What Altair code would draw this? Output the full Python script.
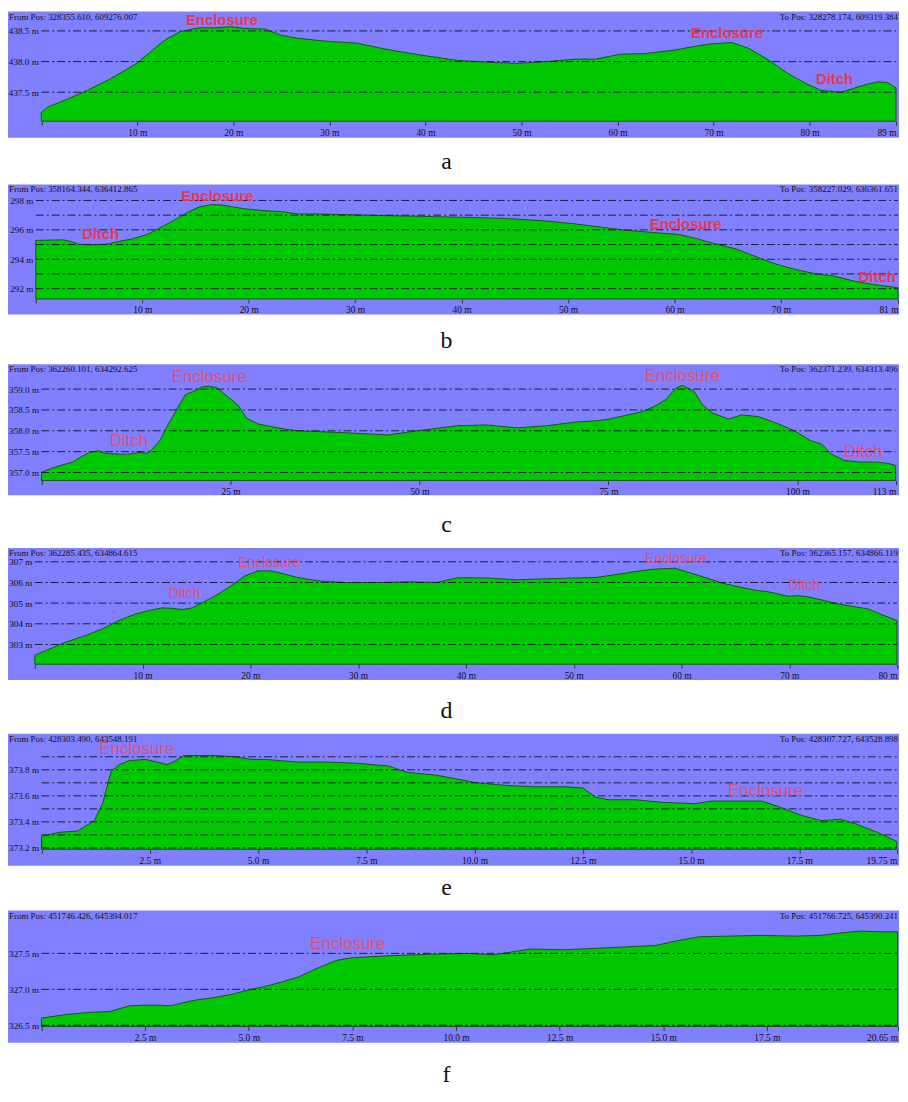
import altair as alt
import pandas as pd

# ---------------- data ----------------
# panel a
a_dist = [0, 0.7, 2.6, 4.8, 7.1, 9.1, 10.0, 11.6, 12.95, 14.5, 16.4, 18.1, 19.8, 21.2, 23.3, 25.0, 26.7, 29.8, 32.9, 35.0,
          37.0, 40.2, 43.3, 46.4, 49.5, 52.6, 55.7, 57.7, 60.3, 62.9, 66.0, 68.1, 69.8, 71.9, 73.6, 75.7, 77.7, 79.5, 81.2, 83.3,
          85.3, 87.05, 88.1, 89.0]
a_elev = [437.17, 437.26, 437.38, 437.53, 437.71, 437.89, 437.98, 438.19, 438.36, 438.49, 438.55, 438.55, 438.57, 438.54, 438.53, 438.43, 438.38, 438.33, 438.30, 438.23,
          438.17, 438.09, 438.02, 437.99, 437.97, 438.00, 438.04, 438.04, 438.12, 438.13, 438.19, 438.25, 438.29, 438.31, 438.22, 438.03, 437.81, 437.65, 437.53, 437.50,
          437.60, 437.67, 437.66, 437.57]
a_grid = [437.5, 438.0, 438.5]
a_ylabels = [437.5, 438.0, 438.5]
a_xticks = [0, 10, 20, 30, 40, 50, 60, 70, 80, 89]
a_xlabels = ["", "10 m", "20 m", "30 m", "40 m", "50 m", "60 m", "70 m", "80 m", "89 m"]
a_from = "From Pos: 328355.610, 609276.007"
a_to = "To Pos: 328278.174, 609319.384"
a_notes = ["Enclosure", "Enclosure", "Ditch"]
a_note_x = [18.8, 71.4, 82.6]
a_note_y = [438.68, 438.46, 437.71]

# panel b
b_dist = [0, 2.55, 3.17, 4.1, 5.04, 6.6, 7.5, 9.1, 10.6, 11.9, 13.1, 14.4, 15.3, 16.5, 17.5, 18.4, 19.7, 21.5, 23.1, 24.6,
          26.5, 29, 32, 36, 40, 44, 48, 50.5, 52.6, 55.1, 57.6, 60.4, 61.9, 63.8, 65.7, 67.5, 69.4, 71.3, 73.1, 75.0,
          76.9, 78.7, 81.0]
b_elev = [295.28, 295.32, 295.24, 295.01, 294.99, 295.01, 295.17, 295.39, 295.73, 296.23, 296.70, 297.24, 297.55, 297.72, 297.69, 297.58, 297.42, 297.31, 297.24, 297.08,
          297.08, 297.04, 296.98, 296.92, 296.86, 296.78, 296.60, 296.42, 296.23, 296.00, 295.84, 295.69, 295.44, 295.05, 294.72, 294.22, 293.70, 293.32, 293.03, 292.85,
          292.51, 292.28, 292.06]
b_grid = [292, 293, 294, 295, 296, 297, 298]
b_ylabels = [292, 294, 296, 298]
b_xticks = [0, 10, 20, 30, 40, 50, 60, 70, 81]
b_xlabels = ["", "10 m", "20 m", "30 m", "40 m", "50 m", "60 m", "70 m", "81 m"]
b_from = "From Pos: 358164.344, 636412.865"
b_to = "To Pos: 358227.029, 636361.651"
b_notes = ["Enclosure", "Ditch", "Enclosure", "Ditch"]
b_note_x = [17.05, 6.08, 61.05, 79.04]
b_note_y = [298.28, 295.73, 296.41, 292.8]

# panel c
c_dist = [0, 1.5, 3.3, 4.15, 5.26, 6.35, 7.44, 8.54, 10.3, 11.6, 12.9, 14.0, 14.7, 15.8, 16.4, 17.3, 18.17, 19.05, 20.1, 21.2,
          22.1, 23.2, 24.7, 26.06, 27.15, 28.7, 30.4, 32.2, 33.9, 40.5, 45.8, 49.7, 55.0, 58.9, 62.9, 66.8, 70.7, 73.4, 75.1, 77.3,
          79.5, 81.25, 82.6, 83.9, 84.75, 86.3, 87.4, 88.7, 90.9, 92.6, 94.8, 97.0, 99.6, 101.8, 103.2, 104.5, 106.2, 108.4, 110.6, 111.9,
          113.0]
c_elev = [357.01, 357.11, 357.21, 357.25, 357.38, 357.48, 357.52, 357.46, 357.44, 357.44, 357.48, 357.46, 357.56, 357.80, 358.04, 358.32, 358.60, 358.87, 358.94, 359.05,
          359.07, 359.03, 358.81, 358.60, 358.30, 358.16, 358.10, 358.04, 358.00, 357.95, 357.90, 358.00, 358.12, 358.14, 358.07, 358.12, 358.21, 358.24, 358.28, 358.37,
          358.46, 358.60, 358.75, 359.02, 359.09, 358.95, 358.63, 358.43, 358.28, 358.38, 358.34, 358.20, 358.00, 357.76, 357.68, 357.44, 357.29, 357.25, 357.25, 357.22,
          357.17]
c_grid = [357.0, 357.5, 358.0, 358.5, 359.0]
c_ylabels = [357.0, 357.5, 358.0, 358.5, 359.0]
c_xticks = [0, 25, 50, 75, 100, 113]
c_xlabels = ["", "25 m", "50 m", "75 m", "100 m", "113 m"]
c_from = "From Pos: 362260.101, 634292.625"
c_to = "To Pos: 362371.239, 634313.496"
c_notes = ["Enclosure", "Ditch", "Enclosure", "Ditch"]
c_note_x = [22.2, 11.56, 84.76, 108.7]
c_note_y = [359.29, 357.76, 359.31, 357.48]

# panel d
d_dist = [0, 2.92, 4.76, 6.3, 7.8, 9.37, 10.6, 11.8, 12.75, 13.67, 14.6, 15.5, 17.05, 18.3, 19.5, 20.7, 21.97, 23.2, 24.4, 26.3,
          29.0, 31.8, 34.6, 37.3, 39.2, 41.9, 44.7, 47.5, 50.2, 52.07, 53.6, 55.5, 57.3, 59.4, 60.7, 62.2, 63.75, 65.3, 66.8, 68.05,
          69.9, 70.8, 71.7, 73.3, 74.5, 76.0, 77.3, 78.8, 80.0]
d_elev = [302.48, 303.12, 303.44, 303.76, 304.16, 304.48, 304.64, 304.77, 304.75, 304.69, 304.77, 305.01, 305.44, 305.88, 306.32, 306.56, 306.56, 306.40, 306.24, 306.08,
          305.99, 306.00, 306.03, 306.00, 306.23, 306.22, 306.13, 306.18, 306.22, 306.24, 306.36, 306.51, 306.64, 306.69, 306.48, 306.24, 305.97, 305.79, 305.63, 305.55,
          305.33, 305.36, 305.31, 305.12, 304.96, 304.83, 304.72, 304.40, 304.16]
d_grid = [303, 304, 305, 306, 307]
d_ylabels = [303, 304, 305, 306, 307]
d_xticks = [0, 10, 20, 30, 40, 50, 60, 70, 80]
d_xlabels = ["", "10 m", "20 m", "30 m", "40 m", "50 m", "60 m", "70 m", "80 m"]
d_from = "From Pos: 362285.435, 634864.615"
d_to = "To Pos: 362365.157, 634866.119"
d_notes = ["Enclosure", "Ditch", "Enclosure", "Ditch"]
d_note_x = [21.75, 13.9, 59.5, 71.4]
d_note_y = [306.96, 305.44, 307.12, 305.81]

# panel e
e_dist = [0, 0.42, 0.84, 1.22, 1.41, 1.61, 1.8, 2.02, 2.4, 2.67, 2.9, 3.1, 3.29, 3.63, 4.01, 4.47, 4.85, 5.16, 5.54, 5.92,
          6.6, 7.3, 8.0, 8.45, 9.1, 10.05, 10.74, 11.4, 12.1, 12.5, 12.8, 13.1, 13.72, 14.33, 15.1, 15.48, 16.0, 16.63, 17.0, 17.55,
          18.0, 18.46, 18.84, 19.3, 19.75]
e_elev = [373.29, 373.32, 373.33, 373.41, 373.54, 373.79, 373.84, 373.87, 373.88, 373.86, 373.84, 373.87, 373.91, 373.91, 373.91, 373.90, 373.88, 373.88, 373.87, 373.86,
          373.86, 373.85, 373.83, 373.78, 373.76, 373.70, 373.68, 373.67, 373.67, 373.66, 373.59, 373.57, 373.57, 373.55, 373.54, 373.56, 373.56, 373.56, 373.52, 373.45,
          373.41, 373.42, 373.38, 373.32, 373.25]
e_grid = [373.2, 373.3, 373.4, 373.5, 373.6, 373.7, 373.8, 373.9]
e_ylabels = [373.2, 373.4, 373.6, 373.8]
e_xticks = [0, 2.5, 5.0, 7.5, 10.0, 12.5, 15.0, 17.5, 19.75]
e_xlabels = ["", "2.5 m", "5.0 m", "7.5 m", "10.0 m", "12.5 m", "15.0 m", "17.5 m", "19.75 m"]
e_from = "From Pos: 428303.490, 643548.191"
e_to = "To Pos: 428307.727, 643528.898"
e_notes = ["Enclosure", "Enclosure"]
e_note_x = [2.2, 16.72]
e_note_y = [373.96, 373.636]

# panel f
f_dist = [0, 0.6, 1.16, 1.64, 2.12, 2.43, 2.83, 3.11, 3.39, 3.71, 4.11, 4.59, 4.99, 5.39, 5.79, 6.19, 6.6, 7.1, 7.5, 8.5,
          9.5, 10.3, 10.9, 11.8, 12.6, 13.37, 14.09, 14.81, 15.29, 15.85, 16.57, 17.37, 18.16, 18.8, 19.2, 19.76, 20.16, 20.65]
f_elev = [326.60, 326.65, 326.68, 326.69, 326.77, 326.78, 326.78, 326.77, 326.81, 326.85, 326.88, 326.93, 326.99, 327.04, 327.10, 327.17, 327.28, 327.40, 327.44, 327.47,
          327.49, 327.50, 327.48, 327.56, 327.55, 327.57, 327.59, 327.61, 327.67, 327.73, 327.74, 327.75, 327.74, 327.75, 327.78, 327.81, 327.80, 327.80]
f_grid = [326.5, 327.0, 327.5]
f_ylabels = [326.5, 327.0, 327.5]
f_xticks = [0, 2.5, 5.0, 7.5, 10.0, 12.5, 15.0, 17.5, 20.65]
f_xlabels = ["", "2.5 m", "5.0 m", "7.5 m", "10.0 m", "12.5 m", "15.0 m", "17.5 m", "20.65 m"]
f_from = "From Pos: 451746.426, 645394.017"
f_to = "To Pos: 451766.725, 645390.241"
f_notes = ["Enclosure"]
f_note_x = [7.39]
f_note_y = [327.63]

# ---------------- layout / style ----------------
W = 897
BAND = "#8080ff"
GREEN = "#00c800"
OUTLINE = "#1f4f1f"
GRIDC = "#1c1c3a"
RED_BOLD = "#e8384a"
RED_REG = "#e05070"
SERIF = "Liberation Serif"
SANS = "Liberation Sans"

panels = [
    dict(dist=a_dist, elev=a_elev, grid=a_grid, ylab=a_ylabels, xt=a_xticks, xl=a_xlabels, frm=a_from, to=a_to,
         notes=a_notes, nx=a_note_x, ny=a_note_y, xmax=89, pl=33.5, pr=894, ydom=[436.757, 438.815], base=437.028,
         H=127, yfmt=".1f", nsize=15, nbold=True, letter="a", toff=12),
    dict(dist=b_dist, elev=b_elev, grid=b_grid, ylab=b_ylabels, xt=b_xticks, xl=b_xlabels, frm=b_from, to=b_to,
         notes=b_notes, nx=b_note_x, ny=b_note_y, xmax=81, pl=28, pr=896, ydom=[290.236, 299.088], base=291.297,
         H=131, yfmt="d", nsize=15, nbold=True, letter="b", toff=15),
    dict(dist=c_dist, elev=c_elev, grid=c_grid, ylab=c_ylabels, xt=c_xticks, xl=c_xlabels, frm=c_from, to=c_to,
         notes=c_notes, nx=c_note_x, ny=c_note_y, xmax=113, pl=33.7, pr=893.7, ydom=[356.452, 359.595], base=356.81,
         H=132, yfmt=".1f", nsize=17, nbold=False, letter="c", toff=17),
    dict(dist=d_dist, elev=d_elev, grid=d_grid, ylab=d_ylabels, xt=d_xticks, xl=d_xlabels, frm=d_from, to=d_to,
         notes=d_notes, nx=d_note_x, ny=d_note_y, xmax=80, pl=27, pr=895, ydom=[301.274, 307.668], base=302.043,
         H=133, yfmt="d", nsize=14, nbold=False, letter="d", toff=19),
    dict(dist=e_dist, elev=e_elev, grid=e_grid, ylab=e_ylabels, xt=e_xticks, xl=e_xlabels, frm=e_from, to=e_to,
         notes=e_notes, nx=e_note_x, ny=e_note_y, xmax=19.75, pl=33.7, pr=894.8, ydom=[373.062, 374.077], base=373.189,
         H=133, yfmt=".1f", nsize=17, nbold=False, letter="e", toff=10),
    dict(dist=f_dist, elev=f_elev, grid=f_grid, ylab=f_ylabels, xt=f_xticks, xl=f_xlabels, frm=f_from, to=f_to,
         notes=f_notes, nx=f_note_x, ny=f_note_y, xmax=20.65, pl=33.7, pr=895.5, ydom=[326.258, 328.095], base=326.483,
         H=133, yfmt=".1f", nsize=17, nbold=False, letter="f", toff=21),
]


def tick_label_expr(ticks, labels):
    expr = "''"
    for t, l in zip(reversed(ticks), reversed(labels)):
        expr = f"datum.value == {t!r} ? '{l}' : " + expr
    return expr


def make_panel(p):
    lo, hi = p["ydom"]
    H = p["H"]
    xoff = H * (p["base"] - lo) / (hi - lo)
    xs = alt.Scale(domain=[0, p["xmax"]], range=[p["pl"], p["pr"]], nice=False, zero=False)
    ys = alt.Scale(domain=[lo, hi], nice=False, zero=False)

    prof = pd.DataFrame({"dist": p["dist"], "elev": p["elev"]})
    prof["base"] = p["base"]

    def xaxis():
        return alt.Axis(values=p["xt"], labelExpr=tick_label_expr(p["xt"], p["xl"]), title=None, grid=False,
                        domain=False, ticks=True, tickSize=4, tickColor="#333333", labelFont=SERIF,
                        labelFontSize=9.5, labelColor="#111111", labelPadding=2, offset=-xoff, labelFlush=True,
                        labelOverlap=False, orient="bottom", zindex=1)

    def yaxis():
        return alt.Axis(values=p["ylab"], labelExpr=f"format(datum.value, '{p['yfmt']}') + ' m'", title=None,
                        grid=False, domain=False, ticks=False, tickSize=0, labelFont=SERIF, labelFontSize=9.2,
                        labelColor="#111111", labelPadding=3, offset=-p["pl"], labelOverlap=False, orient="left",
                        zindex=1)

    area = alt.Chart(prof).mark_area(color=GREEN, stroke=OUTLINE, strokeWidth=1).encode(
        x=alt.X("dist:Q", scale=xs, axis=xaxis(), title=None),
        y=alt.Y("elev:Q", scale=ys, axis=yaxis(), title=None),
        y2="base:Q",
    )

    g = pd.DataFrame({"g": p["grid"]})
    g["x0"] = 0
    g["x1"] = p["xmax"]
    rules = alt.Chart(g).mark_rule(color=GRIDC, strokeWidth=1, strokeDash=[8, 3, 2, 3]).encode(
        x=alt.X("x0:Q", scale=xs, axis=xaxis(), title=None),
        x2="x1:Q",
        y=alt.Y("g:Q", scale=ys, axis=yaxis(), title=None),
    )

    nd = pd.DataFrame({"note": p["notes"], "nx": p["nx"], "ny": p["ny"]})
    notes = alt.Chart(nd).mark_text(
        font=SANS, fontSize=p["nsize"], fontWeight="bold" if p["nbold"] else "normal",
        color=RED_BOLD if p["nbold"] else RED_REG, align="center", baseline="middle",
    ).encode(
        x=alt.X("nx:Q", scale=xs, axis=xaxis(), title=None),
        y=alt.Y("ny:Q", scale=ys, axis=yaxis(), title=None),
        text="note:N",
    )

    hf = alt.Chart(pd.DataFrame({"t": [p["frm"]]})).mark_text(
        align="left", baseline="middle", font=SERIF, fontSize=9, color="#111111"
    ).encode(x=alt.value(1), y=alt.value(5), text="t:N")
    ht = alt.Chart(pd.DataFrame({"t": [p["to"]]})).mark_text(
        align="right", baseline="middle", font=SERIF, fontSize=9, color="#111111"
    ).encode(x=alt.value(W - 1), y=alt.value(5), text="t:N")

    return alt.layer(area, rules, notes, hf, ht).properties(
        width=W, height=H,
        title=alt.TitleParams(text=p["letter"], orient="bottom", anchor="middle", font=SERIF, fontSize=24,
                              fontWeight="normal", color="#111111", offset=p["toff"], dx=-7),
    )


chart = alt.vconcat(*[make_panel(p) for p in panels], spacing=11).properties(
    padding=0, background="white"
).configure_view(fill=BAND, strokeWidth=0)

chart.save("out.html", embed_options={"renderer": "svg", "actions": False})
